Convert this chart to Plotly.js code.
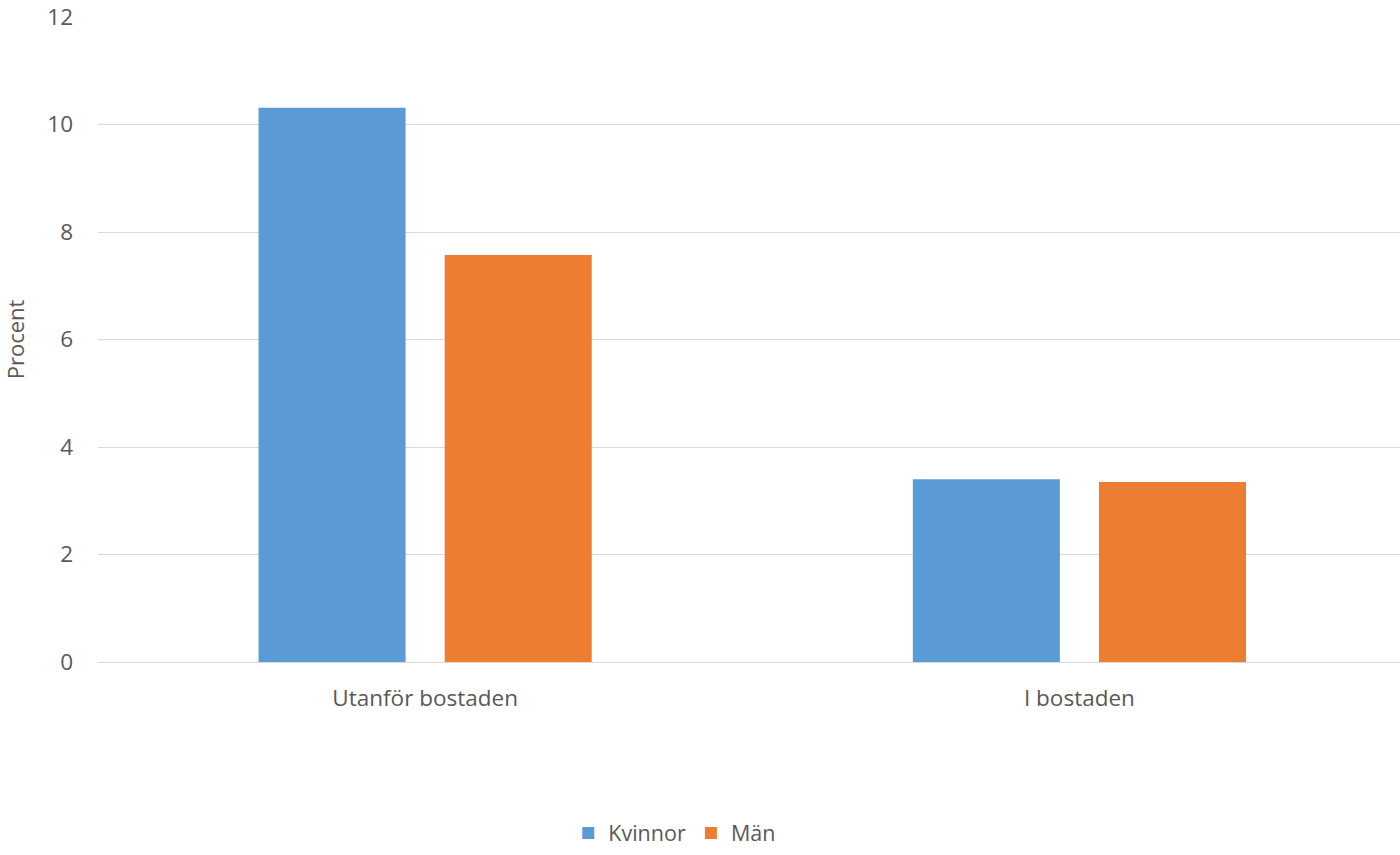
<!DOCTYPE html>
<html>
<head>
<meta charset="utf-8">
<script src="https://cdn.plot.ly/plotly-3.0.1.min.js"></script>
<style>html,body{margin:0;padding:0;background:#fff;}#chart{width:1400px;height:855px;}</style>
</head>
<body>
<div id="chart"></div>
<script>
const categories = ["Utanför bostaden", "I bostaden"];
const kvinnor = [10.31, 3.40];
const man = [7.57, 3.35];
const yTicks = [0, 2, 4, 6, 8, 10, 12];

const FONT = "Open Sans, sans-serif";
const font = {family: FONT, size: 22.5, color: "#595959"};

const traces = [
  {type: "bar", name: "Kvinnor", x: categories, y: kvinnor, marker: {color: "#5b9bd5"}, hoverinfo: "y"},
  {type: "bar", name: "Män", x: categories, y: man, marker: {color: "#ed7d31"}, hoverinfo: "y"}
];

const layout = {
  width: 1400, height: 855,
  margin: {l: 98, r: 0, t: 17, b: 193, autoexpand: false},
  paper_bgcolor: "#fff", plot_bgcolor: "#fff",
  font: font,
  barmode: "group",
  bargap: 0.431,
  bargroupgap: 0.21,
  showlegend: true,
  legend: {orientation: "h", x: 0.443, xanchor: "center", y: -0.297, yanchor: "bottom",
           font: {family: FONT, size: 21.5, color: "#595959"}, traceorder: "normal", borderwidth: 0},
  xaxis: {
    type: "category", range: [-0.5, 1.49],
    showgrid: false, zeroline: false,
    showline: true, linecolor: "#d9d9d9", linewidth: 1,
    ticks: "", ticklabelstandoff: 16,
    tickfont: font
  },
  yaxis: {
    range: [0, 12], tickvals: yTicks, ticktext: yTicks.map(String),
    showgrid: true, gridcolor: "#d9d9d9", gridwidth: 1,
    zeroline: false, showline: false,
    ticks: "", ticklabelstandoff: 24,
    tickfont: font,
    title: {text: "Procent", font: {family: FONT, size: 22, color: "#595959"}, standoff: 18}
  }
};

Plotly.newPlot("chart", traces, layout, {displayModeBar: false, responsive: false});
</script>
</body>
</html>
